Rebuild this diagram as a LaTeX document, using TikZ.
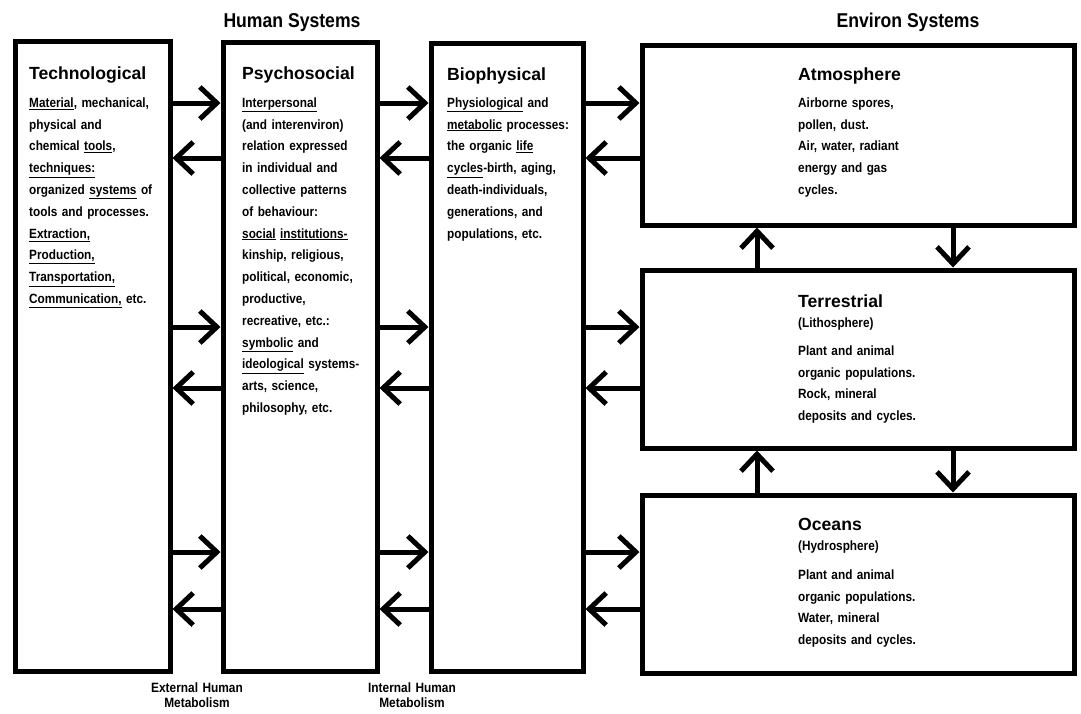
\documentclass[tikz,border=0pt]{standalone}
\usepackage{fontspec}
\setmainfont{Liberation Sans}
\newfontfamily\bodyfont[FakeStretch=0.88]{Liberation Sans}
\usetikzlibrary{arrows.meta}
\newcommand\ulw[1]{\underline{#1}}
\begin{document}
\begin{tikzpicture}[x=1pt,y=-1pt,
  box/.style={draw, line width=5pt, rectangle, inner sep=0pt, anchor=center},
  arr/.style={line width=5pt, -{Straight Barb[length=17pt,width=32pt,sharp]}},
  ttl/.style={anchor=base west, inner sep=0pt, font=\fontsize{17.6}{20}\selectfont\bfseries},
  sub/.style={anchor=base west, inner sep=0pt, font=\bodyfont\bfseries\fontsize{13.4}{21.8}\selectfont},
  body/.style={anchor=north west, inner sep=0pt, text width=150pt, align=left, font=\bodyfont\bfseries\fontsize{13.4}{21.8}\selectfont},
  hdr/.style={anchor=base, inner sep=0pt, font=\bodyfont\bfseries\fontsize{20}{24}\selectfont},
  foot/.style={anchor=north, inner sep=0pt, text width=120pt, align=center, font=\bodyfont\bfseries\fontsize{13.5}{15.5}\selectfont}]
\useasboundingbox (0,0) rectangle (1081,713);
\fill[white] (0,0) rectangle (1081,713);

% boxes
\node[box, minimum width=155pt, minimum height=630pt] (tech) at (92.5,356) {};
\node[box, minimum width=154pt, minimum height=629pt] (psy) at (300,356.5) {};
\node[box, minimum width=152pt, minimum height=628pt] (bio) at (507,357) {};
\node[box, minimum width=432pt, minimum height=180pt] (atm) at (858,135) {};
\node[box, minimum width=432pt, minimum height=178pt] (ter) at (858,359) {};
\node[box, minimum width=432pt, minimum height=178pt] (oce) at (858,584) {};

% headers
\node[hdr] (h1) at (292,27) {Human Systems};
\node[hdr] (h2) at (908,27) {Environ Systems};

% texts
\node[ttl] (t1) at (29,79) {Technological};
\node[body] (b1) at (29,91.74) {\strut\ulw{Material}, mechanical,\\
physical and\\
chemical \ulw{tools},\\
\ulw{techniques:}\\
organized \ulw{systems} of\\
tools and processes.\\
\ulw{Extraction,}\\
\ulw{Production,}\\
\ulw{Transportation,}\\
\ulw{Communication,} etc.};

\node[ttl] (t2) at (242,79) {Psychosocial};
\node[body] (b2) at (242,91.74) {\strut\ulw{Interpersonal}\\
(and interenviron)\\
relation expressed\\
in individual and\\
collective patterns\\
of behaviour:\\
\ulw{social} \ulw{institutions-}\\
kinship, religious,\\
political, economic,\\
productive,\\
recreative, etc.:\\
\ulw{symbolic} and\\
\ulw{ideological} systems-\\
arts, science,\\
philosophy, etc.};

\node[ttl] (t3) at (447,80) {Biophysical};
\node[body] (b3) at (447,91.74) {\strut\ulw{Physiological} and\\
\ulw{metabolic} processes:\\
the organic \ulw{life}\\
\ulw{cycles}-birth, aging,\\
death-individuals,\\
generations, and\\
populations, etc.};

\node[ttl] (t4) at (798,80) {Atmosphere};
\node[body] (b4) at (798,91.74) {\strut Airborne spores,\\
pollen, dust.\\
Air, water, radiant\\
energy and gas\\
cycles.};

\node[ttl] (t5) at (798,307) {Terrestrial};
\node[sub] (s5) at (798,327) {(Lithosphere)};
\node[body] (b5) at (798,339.74) {\strut Plant and animal\\
organic populations.\\
Rock, mineral\\
deposits and cycles.};

\node[ttl] (t6) at (798,530) {Oceans};
\node[sub] (s6) at (798,550) {(Hydrosphere)};
\node[body] (b6) at (798,563.74) {\strut Plant and animal\\
organic populations.\\
Water, mineral\\
deposits and cycles.};

\node[foot] (f1) at (197,681.2) {\strut External Human\\Metabolism};
\node[foot] (f2) at (412,681.2) {\strut Internal Human\\Metabolism};

% arrow levels
\coordinate (a1) at (0,103);
\coordinate (a2) at (0,158);
\coordinate (a3) at (0,327);
\coordinate (a4) at (0,388);
\coordinate (a5) at (0,552);
\coordinate (a6) at (0,609);
\coordinate (v1) at (757,0);
\coordinate (v2) at (953,0);

\foreach \r/\l in {a1/a2,a3/a4,a5/a6}{
  \draw[arr] (tech.east |- \r) -- (psy.west |- \r);
  \draw[arr] (psy.west |- \l) -- (tech.east |- \l);
  \draw[arr] (psy.east |- \r) -- (bio.west |- \r);
  \draw[arr] (bio.west |- \l) -- (psy.east |- \l);
}
\draw[arr] (bio.east |- a1) -- (atm.west |- a1);
\draw[arr] (atm.west |- a2) -- (bio.east |- a2);
\draw[arr] (bio.east |- a3) -- (ter.west |- a3);
\draw[arr] (ter.west |- a4) -- (bio.east |- a4);
\draw[arr] (bio.east |- a5) -- (oce.west |- a5);
\draw[arr] (oce.west |- a6) -- (bio.east |- a6);

\draw[arr] (ter.north -| v1) -- (atm.south -| v1);
\draw[arr] (atm.south -| v2) -- (ter.north -| v2);
\draw[arr] (oce.north -| v1) -- (ter.south -| v1);
\draw[arr] (ter.south -| v2) -- (oce.north -| v2);
\end{tikzpicture}
\end{document}
